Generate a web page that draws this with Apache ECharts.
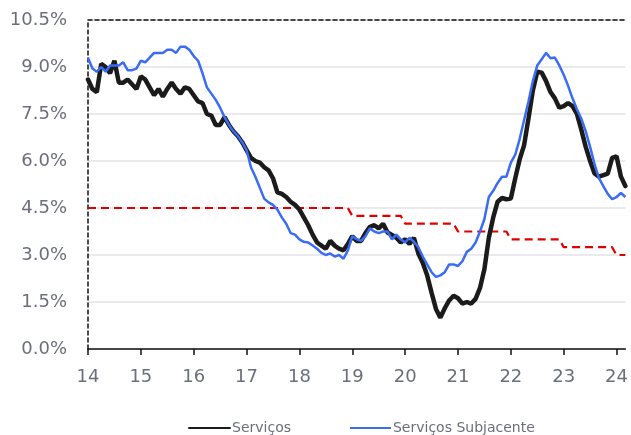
<!DOCTYPE html>
<html>
<head>
<meta charset="utf-8">
<script src="https://cdn.jsdelivr.net/npm/echarts@6/dist/echarts.min.js"></script>
<style>
html, body { margin: 0; padding: 0; background: #fff; }
#chart { width: 631px; height: 435px; }
</style>
</head>
<body>
<div id="chart"></div>
<script>
// anos do eixo x (jan/14 .. mar/24)
const years = [2014, 2015, 2016, 2017, 2018, 2019, 2020, 2021, 2022, 2023, 2024]
// meta de inflação por ano
const metaByYear = [4.5, 4.5, 4.5, 4.5, 4.5, 4.25, 4.0, 3.75, 3.5, 3.25, 3.0]

// Serviços, 12 meses (%)
const servicos = [
	8.6, 8.3, 8.2, 9.1, 9.0, 8.8, 9.2, 8.5, 8.5, 8.6, 8.45, 8.3,
	8.7, 8.6, 8.35, 8.1, 8.3, 8.05, 8.3, 8.5, 8.3, 8.15, 8.35, 8.3,
	8.1, 7.9, 7.85, 7.5, 7.45, 7.15, 7.15, 7.4, 7.15, 6.95, 6.8, 6.6,
	6.35, 6.1, 6.0, 5.95, 5.8, 5.7, 5.45, 5.0, 4.95, 4.85, 4.7, 4.6,
	4.45, 4.2, 3.95, 3.65, 3.4, 3.3, 3.2, 3.45, 3.3, 3.2, 3.15, 3.35,
	3.6, 3.45, 3.45, 3.7, 3.9, 3.95, 3.85, 4.0, 3.72, 3.64, 3.55, 3.4,
	3.5, 3.35, 3.55, 3.05, 2.75, 2.35, 1.8, 1.28, 1.0, 1.3, 1.55, 1.7,
	1.62, 1.45, 1.5, 1.45, 1.6, 1.95, 2.55, 3.55, 4.2, 4.7, 4.82, 4.78,
	4.8, 5.45, 6.05, 6.5, 7.35, 8.25, 8.85, 8.82, 8.55, 8.2, 8.0, 7.7,
	7.75, 7.85, 7.75, 7.5, 7.0, 6.45, 6.0, 5.6, 5.5, 5.55, 5.6, 6.1,
	6.15, 5.5, 5.2,
]

// Serviços Subjacente, 12 meses (%)
const subjacente = [
	9.3, 8.95, 8.85, 9.0, 8.85, 9.05, 9.05, 9.05, 9.15, 8.9, 8.9, 8.95,
	9.2, 9.15, 9.3, 9.45, 9.45, 9.45, 9.55, 9.55, 9.45, 9.65, 9.65, 9.55,
	9.35, 9.2, 8.8, 8.35, 8.15, 7.95, 7.7, 7.4, 7.15, 6.95, 6.8, 6.6,
	6.35, 5.8, 5.5, 5.15, 4.8, 4.68, 4.6, 4.45, 4.2, 4.0, 3.7, 3.65,
	3.5, 3.42, 3.4, 3.3, 3.2, 3.07, 3.0, 3.05, 2.95, 3.0, 2.88, 3.15,
	3.6, 3.5, 3.45, 3.6, 3.85, 3.75, 3.7, 3.75, 3.75, 3.5, 3.65, 3.5,
	3.4, 3.55, 3.42, 3.25, 2.95, 2.7, 2.45, 2.3, 2.35, 2.45, 2.7, 2.7,
	2.65, 2.8, 3.1, 3.2, 3.4, 3.75, 4.15, 4.85, 5.05, 5.3, 5.5, 5.5,
	5.95, 6.2, 6.7, 7.3, 7.9, 8.55, 9.05, 9.25, 9.45, 9.28, 9.3, 9.05,
	8.75, 8.4, 8.0, 7.65, 7.35, 6.95, 6.45, 5.9, 5.45, 5.2, 4.95, 4.78,
	4.85, 4.98, 4.85,
]

// categorias mensais
const months = []
years.forEach((y) => {
	for (let m = 1; m <= 12; m++) {
		if (months.length < servicos.length) months.push(y + '-' + (m < 10 ? '0' + m : m))
	}
})
// meta mensal = meta do ano correspondente
const meta = months.map((m) => metaByYear[years.indexOf(+m.slice(0, 4))])

const FONT = 'DejaVu Sans'
const GREY = '#6b6f7c'
const isJan = (idx) => idx % 12 === 0

const myChart = echarts.init(document.getElementById('chart'))
const option = {
	animation: false,
	grid: { left: 88, right: 4, top: 20, bottom: 86 },
	legend: {
		left: 188,
		bottom: 0,
		padding: 0,
		itemWidth: 41,
		itemHeight: 14,
		itemGap: 58,
		data: [
			{ name: 'Serviços', itemStyle: { opacity: 0 } },
			{ name: 'Serviços Subjacente', itemStyle: { opacity: 0 } },
		],
		textStyle: { color: GREY, fontFamily: FONT, fontSize: 14, padding: [0, 0, 0, -3] },
	},
	xAxis: [
		{
			type: 'category',
			boundaryGap: false,
			data: months,
			axisLine: { lineStyle: { color: '#111', width: 1.5 } },
			axisTick: { interval: isJan, length: 6, lineStyle: { color: '#111', width: 1.5 } },
			axisLabel: {
				interval: isJan,
				margin: 19,
				color: GREY,
				fontFamily: FONT,
				fontSize: 18,
				formatter: (v) => v.slice(2, 4),
			},
			splitLine: { show: false },
		},
		{
			// borda superior tracejada
			type: 'category',
			position: 'top',
			boundaryGap: false,
			data: months,
			axisLine: { lineStyle: { color: '#111', width: 1.5, type: [4, 3] } },
			axisTick: { show: false },
			axisLabel: { show: false },
			splitLine: { show: false },
		},
	],
	yAxis: {
		type: 'value',
		min: 0,
		max: 10.5,
		interval: 1.5,
		axisLine: { show: true, lineStyle: { color: '#111', width: 1.5, type: [4, 3] } },
		axisTick: { show: false },
		axisLabel: {
			margin: 21,
			color: GREY,
			fontFamily: FONT,
			fontSize: 18,
			formatter: (v) => v.toFixed(1) + '%',
		},
		splitLine: { lineStyle: { color: '#e2e2e8', width: 1.5 } },
	},
	series: [
		{
			name: 'Serviços',
			type: 'line',
			data: servicos,
			symbol: 'none',
			lineStyle: { color: '#1b1b1b', width: 4.5, cap: 'round' },
			itemStyle: { color: '#1b1b1b' },
			z: 3,
		},
		{
			name: 'Serviços Subjacente',
			type: 'line',
			data: subjacente,
			symbol: 'none',
			lineStyle: { color: '#3a6cf4', width: 2.5 },
			itemStyle: { color: '#3a6cf4' },
			z: 4,
		},
		{
			name: 'Meta',
			type: 'line',
			data: meta,
			symbol: 'none',
			lineStyle: { color: '#e00000', width: 2.2, type: [8, 5] },
			itemStyle: { color: '#e00000' },
			z: 2,
		},
	],
}
myChart.setOption(option)
</script>
</body>
</html>
